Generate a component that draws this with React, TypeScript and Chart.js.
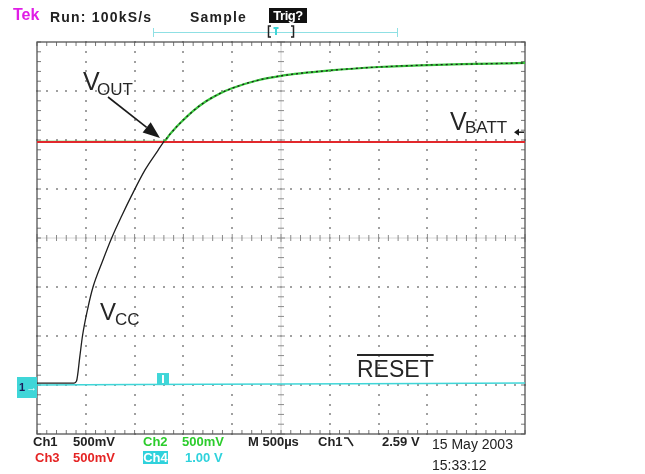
import React, { useEffect, useRef } from 'react';
import { Chart, registerables } from 'chart.js';

Chart.register(...registerables);

// Time axis: M 500µs/div, 10 divisions
const timeMin = 0;
const timeMax = 5000;
// Vertical scale (Ch1 volts at 500mV/div, 8 divisions)
const voltMin = -0.52;
const voltMax = 3.48;

// Ch1 (black) – VCC / VOUT
const ch1Time = [0, 380, 405, 440, 466, 520, 574, 670, 765, 870, 970, 1107, 1240, 1291, 1363, 1465, 1598, 1732, 1875, 1998, 2244, 2500, 3002, 3504, 4006, 4498, 5000];
const ch1Volts = [0, 0, 0.02, 0.28, 0.48, 0.76, 0.98, 1.24, 1.48, 1.71, 1.915, 2.175, 2.375, 2.45, 2.54, 2.65, 2.775, 2.875, 2.955, 3.008, 3.085, 3.135, 3.19, 3.225, 3.245, 3.256, 3.266];

// Ch2 (green) – VOUT
const ch2Time = [0, 1291, 1363, 1465, 1598, 1732, 1875, 1998, 2244, 2500, 3002, 3504, 4006, 4498, 5000];
const ch2Volts = [2.46, 2.46, 2.54, 2.65, 2.775, 2.875, 2.955, 3.008, 3.085, 3.135, 3.19, 3.225, 3.245, 3.256, 3.266];

// Ch3 (red) – VBATT
const ch3Time = [0, 5000];
const ch3Volts = [2.46, 2.46];

// Ch4 (cyan) – RESET
const ch4Time = [0, 1000, 2500, 4000, 5000];
const ch4Volts = [-0.02, -0.015, -0.01, -0.005, 0.0];

const crossingTime = 1291;
const crossingVolts = 2.46;
const triggerLevel = 2.59;

const toPoints = (xs: number[], ys: number[]) => xs.map((x, i) => ({ x, y: ys[i] }));

const graticulePlugin = {
  id: 'graticule',
  beforeDatasetsDraw(chart: any) {
    const { ctx } = chart;
    const { left, top, right, bottom } = chart.chartArea;
    const dx = (right - left) / 10;
    const dy = (bottom - top) / 8;
    const cx = left + 5 * dx;
    const cy = top + 4 * dy;
    ctx.save();
    ctx.fillStyle = '#a0a0a0';
    for (let i = 1; i < 10; i++) {
      if (i === 5) continue;
      const x = left + i * dx;
      for (let k = 0; k <= 40; k++) {
        const y = top + (k * dy) / 5;
        ctx.fillRect(Math.round(x) - 1, Math.round(y) - 1, 2, 2);
      }
    }
    for (let j = 1; j < 8; j++) {
      if (j === 4) continue;
      const y = top + j * dy;
      for (let k = 0; k <= 50; k++) {
        const x = left + (k * dx) / 5;
        ctx.fillRect(Math.round(x) - 1, Math.round(y) - 1, 2, 2);
      }
    }
    // center lines
    ctx.strokeStyle = '#d4d4d4';
    ctx.lineWidth = 1;
    ctx.beginPath();
    ctx.moveTo(left, cy);
    ctx.lineTo(right, cy);
    ctx.moveTo(cx, top);
    ctx.lineTo(cx, bottom);
    ctx.stroke();
    ctx.strokeStyle = '#8a8a8a';
    ctx.beginPath();
    for (let k = 0; k <= 50; k++) {
      const x = left + (k * dx) / 5;
      const len = k % 5 === 0 ? 4 : 3;
      ctx.moveTo(x, cy - len);
      ctx.lineTo(x, cy + len);
    }
    for (let k = 0; k <= 40; k++) {
      const y = top + (k * dy) / 5;
      const len = k % 5 === 0 ? 4 : 3;
      ctx.moveTo(cx - len, y);
      ctx.lineTo(cx + len, y);
    }
    ctx.stroke();
    // frame ticks
    ctx.strokeStyle = '#777';
    ctx.beginPath();
    for (let k = 0; k <= 50; k++) {
      const x = left + (k * dx) / 5;
      ctx.moveTo(x, top);
      ctx.lineTo(x, top + 4);
      ctx.moveTo(x, bottom - 4);
      ctx.lineTo(x, bottom);
    }
    for (let k = 0; k <= 40; k++) {
      const y = top + (k * dy) / 5;
      ctx.moveTo(left, y);
      ctx.lineTo(left + 4, y);
      ctx.moveTo(right - 4, y);
      ctx.lineTo(right, y);
    }
    ctx.stroke();
    ctx.strokeStyle = '#555';
    ctx.lineWidth = 1.3;
    ctx.strokeRect(left, top, right - left, bottom - top);
    ctx.restore();
  },
  afterDatasetsDraw(chart: any) {
    const { ctx } = chart;
    const xs = chart.scales.x;
    const ys = chart.scales.y;
    const { right } = chart.chartArea;
    ctx.save();
    // VOUT arrow pointing at crossing
    const tipX = xs.getPixelForValue(crossingTime) - 3;
    const tipY = ys.getPixelForValue(crossingVolts) - 4;
    const sx = 108;
    const sy = 97;
    const ang = Math.atan2(tipY - sy, tipX - sx);
    const hl = 17;
    const hw = 6.5;
    const bx = tipX - hl * Math.cos(ang);
    const by = tipY - hl * Math.sin(ang);
    ctx.strokeStyle = '#1a1a1a';
    ctx.fillStyle = '#1a1a1a';
    ctx.lineWidth = 1.6;
    ctx.beginPath();
    ctx.moveTo(sx, sy);
    ctx.lineTo(bx, by);
    ctx.stroke();
    ctx.beginPath();
    ctx.moveTo(tipX, tipY);
    ctx.lineTo(bx + hw * Math.sin(ang), by - hw * Math.cos(ang));
    ctx.lineTo(bx - hw * Math.sin(ang), by + hw * Math.cos(ang));
    ctx.closePath();
    ctx.fill();
    // trigger level arrow at right edge
    const ty = ys.getPixelForValue(triggerLevel) + 3;
    ctx.lineWidth = 1.5;
    ctx.beginPath();
    ctx.moveTo(right - 1, ty);
    ctx.lineTo(right - 8, ty);
    ctx.stroke();
    ctx.beginPath();
    ctx.moveTo(right - 11, ty);
    ctx.lineTo(right - 6, ty - 3.5);
    ctx.lineTo(right - 6, ty + 3.5);
    ctx.closePath();
    ctx.fill();
    // trigger position marker on the RESET trace
    const mx = xs.getPixelForValue(crossingTime);
    const my = ys.getPixelForValue(0) - 4;
    ctx.fillStyle = '#3fd6d8';
    ctx.fillRect(mx - 6, my - 6, 12, 12);
    ctx.fillStyle = '#ffffff';
    ctx.fillRect(mx - 1, my - 4, 2, 8);
    ctx.restore();
  },
  afterDraw(chart: any) {
    const { ctx } = chart;
    ctx.save();
    // record-length bar in header
    ctx.strokeStyle = '#8fe0e4';
    ctx.lineWidth = 1;
    ctx.beginPath();
    ctx.moveTo(153, 32.5);
    ctx.lineTo(398, 32.5);
    ctx.moveTo(153.5, 28);
    ctx.lineTo(153.5, 37);
    ctx.moveTo(397.5, 28);
    ctx.lineTo(397.5, 37);
    ctx.stroke();
    ctx.strokeStyle = '#222';
    ctx.lineWidth = 1.5;
    ctx.beginPath();
    ctx.moveTo(271, 26);
    ctx.lineTo(268.5, 26);
    ctx.lineTo(268.5, 37);
    ctx.lineTo(271, 37);
    ctx.moveTo(291, 26);
    ctx.lineTo(293.5, 26);
    ctx.lineTo(293.5, 37);
    ctx.lineTo(291, 37);
    ctx.stroke();
    ctx.strokeStyle = '#3fd6d8';
    ctx.lineWidth = 2;
    ctx.beginPath();
    ctx.moveTo(276, 27);
    ctx.lineTo(276, 35);
    ctx.moveTo(273.5, 28);
    ctx.lineTo(278.5, 28);
    ctx.stroke();
    // falling edge symbol in footer
    ctx.strokeStyle = '#222';
    ctx.lineWidth = 1.6;
    ctx.beginPath();
    ctx.moveTo(344, 438);
    ctx.lineTo(348, 438);
    ctx.lineTo(353, 446);
    ctx.stroke();
    ctx.restore();
  },
};

type LabelProps = {
  x: number;
  base: number;
  size: number;
  color?: string;
  weight?: number | string;
  spacing?: number;
  overline?: boolean;
  children: React.ReactNode;
};

function Label({ x, base, size, color = '#222', weight = 'normal', spacing = 0, overline = false, children }: LabelProps) {
  return (
    <span
      style={{
        position: 'absolute',
        left: x,
        top: base - 0.8465 * size,
        fontSize: size,
        lineHeight: `${size}px`,
        color,
        fontWeight: weight as any,
        letterSpacing: spacing,
        whiteSpace: 'nowrap',
        textDecoration: overline ? 'overline' : 'none',
        textDecorationThickness: overline ? '1.5px' : undefined,
      }}
    >
      {children}
    </span>
  );
}

export default function App() {
  const canvasRef = useRef<HTMLCanvasElement | null>(null);

  useEffect(() => {
    if (!canvasRef.current) return;
    const chart = new Chart(canvasRef.current, {
      type: 'line',
      data: {
        datasets: [
          {
            label: 'Ch1',
            data: toPoints(ch1Time, ch1Volts),
            borderColor: '#1e1e1e',
            borderWidth: 1.3,
            order: 0,
            cubicInterpolationMode: 'monotone',
            segment: {
              borderDash: (c: any) => (c.p0.parsed.x >= crossingTime ? [2, 3] : undefined),
            },
          },
          {
            label: 'Ch3',
            data: toPoints(ch3Time, ch3Volts),
            borderColor: '#e2282c',
            borderWidth: 2,
            order: 1,
          },
          {
            label: 'Ch2',
            data: toPoints(ch2Time, ch2Volts),
            borderColor: '#36c43a',
            borderWidth: 2.2,
            order: 2,
            cubicInterpolationMode: 'monotone',
          },
          {
            label: 'Ch4',
            data: toPoints(ch4Time, ch4Volts),
            borderColor: '#3fd6d8',
            borderWidth: 1.6,
            order: 3,
          },
        ],
      },
      options: {
        animation: false,
        responsive: false,
        layout: { padding: { left: 37, top: 42, right: 120, bottom: 40 } },
        elements: { point: { radius: 0 } },
        scales: {
          x: { type: 'linear', display: false, min: timeMin, max: timeMax },
          y: { type: 'linear', display: false, min: voltMin, max: voltMax },
        },
        plugins: { legend: { display: false }, tooltip: { enabled: false } },
      },
      plugins: [graticulePlugin],
    } as any);
    return () => chart.destroy();
  }, []);

  const green = '#2ccc2c';
  const red = '#e52424';
  const cyan = '#2fd2dc';
  const bold = 'bold';

  return (
    <div
      style={{
        position: 'absolute',
        left: 0,
        top: 0,
        width: 645,
        height: 474,
        background: '#ffffff',
        overflow: 'hidden',
        fontFamily: '"Liberation Sans", Arial, sans-serif',
      }}
    >
      <canvas ref={canvasRef} width={645} height={474} style={{ position: 'absolute', left: 0, top: 0, display: 'block' }} />

      {/* header */}
      <Label x={13} base={21} size={16} color="#e01ee6" weight={bold}>Tek</Label>
      <Label x={50} base={21.7} size={14} weight={bold} spacing={1.2}>Run: 100kS/s</Label>
      <Label x={190} base={21.7} size={14} weight={bold} spacing={1.2}>Sample</Label>
      <span
        style={{
          position: 'absolute',
          left: 269,
          top: 8,
          width: 38,
          height: 15,
          background: '#111',
          color: '#fff',
          fontSize: 13,
          lineHeight: '15px',
          fontWeight: 'bold',
          textAlign: 'center',
          letterSpacing: -0.5,
        }}
      >
        Trig?
      </span>

      {/* annotations */}
      <Label x={83} base={90} size={25} color="#262626">V</Label>
      <Label x={97} base={95} size={17} color="#262626">OUT</Label>
      <Label x={450} base={130} size={25} color="#262626">V</Label>
      <Label x={465} base={133} size={17} color="#262626">BATT</Label>
      <Label x={100} base={320} size={24} color="#262626">V</Label>
      <Label x={115} base={325} size={17} color="#262626">CC</Label>
      <Label x={357} base={377} size={23} color="#262626" overline>RESET</Label>

      {/* ground marker */}
      <span
        style={{
          position: 'absolute',
          left: 17,
          top: 377,
          width: 20,
          height: 21,
          background: '#3fd6d8',
          fontSize: 11,
          lineHeight: '21px',
          fontWeight: 'bold',
          whiteSpace: 'nowrap',
        }}
      >
        <span style={{ color: '#1b1b5a', marginLeft: 2 }}>1</span>
        <span style={{ color: '#ffffff', marginLeft: 1 }}>→</span>
      </span>

      {/* footer */}
      <Label x={33} base={446} size={13} weight={bold}>Ch1</Label>
      <Label x={73} base={446} size={13} weight={bold}>500mV</Label>
      <Label x={143} base={446} size={13} weight={bold} color={green}>Ch2</Label>
      <Label x={182} base={446} size={13} weight={bold} color={green}>500mV</Label>
      <Label x={248} base={446} size={13} weight={bold}>M 500µs</Label>
      <Label x={318} base={446} size={13} weight={bold}>Ch1</Label>
      <Label x={382} base={446} size={13} weight={bold}>2.59 V</Label>
      <Label x={35} base={461.7} size={13} weight={bold} color={red}>Ch3</Label>
      <Label x={73} base={461.7} size={13} weight={bold} color={red}>500mV</Label>
      <span
        style={{
          position: 'absolute',
          left: 143,
          top: 451,
          width: 25,
          height: 13,
          background: cyan,
          color: '#fff',
          fontSize: 13,
          lineHeight: '13px',
          fontWeight: 'bold',
          textAlign: 'center',
        }}
      >
        Ch4
      </span>
      <Label x={185} base={461.7} size={13} weight={bold} color={cyan}>1.00 V</Label>
      <Label x={432} base={449} size={14}>15 May 2003</Label>
      <Label x={432} base={470} size={14}>15:33:12</Label>
    </div>
  );
}
